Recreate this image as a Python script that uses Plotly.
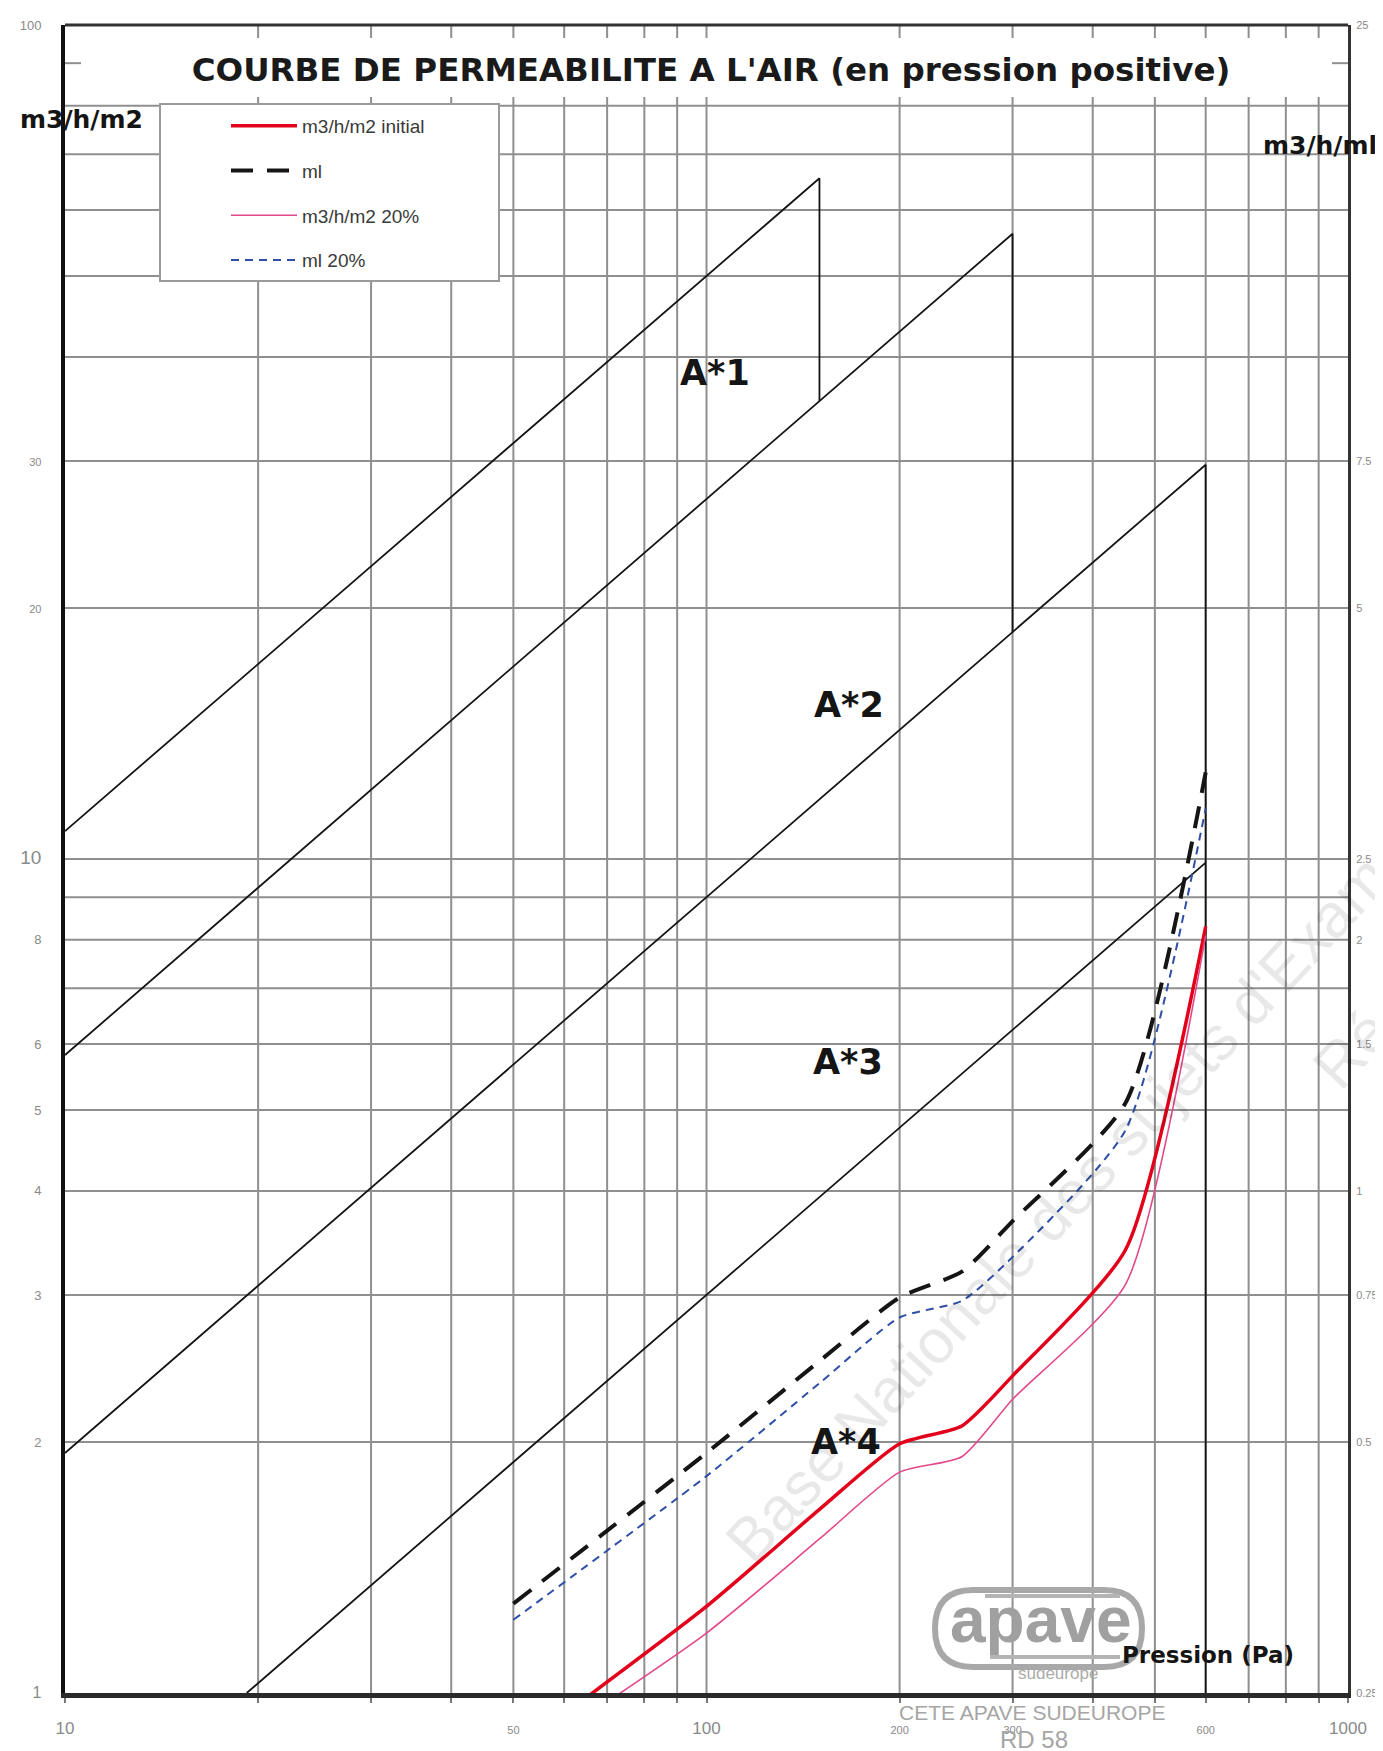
import math
import plotly.graph_objects as go

# ---------------- data ----------------
pressure_pa = [50, 100, 150, 200, 250, 300, 450, 600]
m2_initial = [0.85, 1.27, 1.66, 1.99, 2.09, 2.40, 3.40, 8.30]      # m3/h/m2
ml_initial = [0.320, 0.485, 0.625, 0.745, 0.800, 0.920, 1.275, 3.175]  # m3/h/ml
m2_20pct = [0.82, 1.18, 1.53, 1.84, 1.92, 2.25, 3.09, 8.10]          # m3/h/m2
ml_20pct = [0.306, 0.455, 0.588, 0.705, 0.738, 0.833, 1.183, 2.875]  # m3/h/ml

class_names = ["A*1", "A*2", "A*3", "A*4"]
class_start_pa = [10, 10, 10, 19.2]
class_start_q = [10.8, 5.82, 1.94, 1.0]
class_end_pa = [150, 300, 600, 600]
class_end_q = [65.5, 56.2, 29.7, 9.9]
class_drop_q = [35.4, 18.7, 9.9, 1.0]
class_label_pa = [103, 167, 166, 165]
class_label_q = [38.3, 15.3, 5.71, 2.0]

x_tick_vals = [10, 50, 100, 200, 300, 600, 1000]
y_left_tick_vals = [1, 2, 3, 4, 5, 6, 8, 10, 20, 30, 100]
y_right_tick_vals = [0.25, 0.5, 0.75, 1, 1.5, 2, 2.5, 5, 7.5, 25]
grid_pa = [20, 30, 40, 50, 60, 70, 80, 90, 100, 200, 300, 400, 500, 600, 700, 800, 900]
grid_q = [2, 3, 4, 5, 6, 7, 8, 9, 10, 20, 30, 40, 50, 60, 70, 80]
stub_q = [90]

series_names = ["m3/h/m2 initial", "ml", "m3/h/m2 20%", "ml 20%"]

# ---------------- styles / geometry ----------------
OFF = 8                       # default page margin of the html body
PAGE_W, PAGE_H = 1383, 1751
W, H = PAGE_W - OFF, PAGE_H - OFF
LEFT, RIGHT, TOP, BOTTOM = 65, 1348, 25, 1693   # plot area in page pixels
ML, MT = LEFT - OFF, TOP - OFF
MR, MB = W - (RIGHT - OFF), H - (BOTTOM - OFF)
PW, PH = RIGHT - LEFT, BOTTOM - TOP
BOLD = "DejaVu Sans"
SANS = "Liberation Sans, Arial, sans-serif"
NARROW = "Liberation Sans Narrow, Arial Narrow, Liberation Sans, sans-serif"
GRID = "#8f8f8f"
LABEL = "#8a8a8a"


def px_x(px):
    return (px - LEFT) / PW


def px_y(py):
    return (BOTTOM - py) / PH


def sized(txt, size):
    return f'<span style="font-size:{size}px">{txt}</span>'


x_big = {10, 100, 1000}
x_tick_text = [sized(str(v), 17 if v in x_big else 11) for v in x_tick_vals]
left_sizes = {1: 16, 10: 19, 20: 11, 30: 11, 100: 13}
y_left_tick_text = [sized(str(v), left_sizes.get(v, 13)) for v in y_left_tick_vals]
y_right_tick_text = [sized(f"{v:g}", 11) for v in y_right_tick_vals]

fig = go.Figure()

# class zone boundaries
for i, name in enumerate(class_names):
    fig.add_trace(go.Scatter(
        x=[class_start_pa[i], class_end_pa[i], class_end_pa[i]],
        y=[class_start_q[i], class_end_q[i], class_drop_q[i]],
        mode="lines", line=dict(color="#151515", width=1.8),
        showlegend=False, hoverinfo="skip", name=name))

# measured curves
fig.add_trace(go.Scatter(
    x=pressure_pa, y=m2_initial, name=series_names[0], mode="lines",
    line=dict(color="#e3001b", width=3.5, shape="spline", smoothing=0.6),
    legendgroup="a", yaxis="y"))
fig.add_trace(go.Scatter(
    x=pressure_pa, y=ml_initial, name=series_names[1], mode="lines",
    line=dict(color="#151515", width=4, dash="22px,14px", shape="spline", smoothing=0.6),
    legendgroup="b", yaxis="y2"))
fig.add_trace(go.Scatter(
    x=pressure_pa, y=m2_20pct, name=series_names[2], mode="lines",
    line=dict(color="#e2488a", width=1.6, shape="spline", smoothing=0.6),
    legendgroup="c", yaxis="y"))
fig.add_trace(go.Scatter(
    x=pressure_pa, y=ml_20pct, name=series_names[3], mode="lines",
    line=dict(color="#2f4fa6", width=2, dash="8px,6px", shape="spline", smoothing=0.6),
    legendgroup="d", yaxis="y2"))

shapes = []
for g in grid_pa:
    shapes.append(dict(type="line", xref="x", yref="y", x0=g, x1=g, y0=1, y1=82,
                       line=dict(color=GRID, width=2), layer="below"))
    shapes.append(dict(type="line", xref="x", yref="paper", x0=g, x1=g, y0=1, y1=1 - 13 / PH,
                       line=dict(color=GRID, width=2), layer="below"))
for g in grid_q:
    shapes.append(dict(type="line", xref="paper", yref="y", x0=0, x1=1, y0=g, y1=g,
                       line=dict(color=GRID, width=2), layer="below"))
for g in stub_q:
    shapes.append(dict(type="line", xref="paper", yref="y", x0=0, x1=16 / PW, y0=g, y1=g,
                       line=dict(color=GRID, width=2), layer="below"))
    shapes.append(dict(type="line", xref="paper", yref="y", x0=1 - 16 / PW, x1=1, y0=g, y1=g,
                       line=dict(color=GRID, width=2), layer="below"))
# top frame line
shapes.append(dict(type="line", xref="paper", yref="paper", x0=0, x1=1, y0=1, y1=1,
                   line=dict(color="#333333", width=3), layer="above"))
# legend frame
shapes.append(dict(type="rect", xref="paper", yref="paper",
                   x0=px_x(160), x1=px_x(499), y0=px_y(281), y1=px_y(104),
                   fillcolor="white", line=dict(color="#9a9a9a", width=2), layer="above"))
# apave stamp outline
x0, x1, y0, y1 = px_x(935), px_x(1142), px_y(1667), px_y(1590)
rx, ym = 38 / PW, (y0 + y1) / 2
stamp = (f"M {x0+rx},{y1} L {x1-rx},{y1} Q {x1},{y1} {x1},{ym} Q {x1},{y0} {x1-rx},{y0} "
         f"L {x0+rx},{y0} Q {x0},{y0} {x0},{ym} Q {x0},{y1} {x0+rx},{y1} Z")
shapes.append(dict(type="path", xref="paper", yref="paper", path=stamp,
                   line=dict(color="#a8a8a8", width=6), layer="above"))
shapes.append(dict(type="line", xref="paper", yref="paper", x0=px_x(985), x1=px_x(1120),
                   y0=px_y(1596), y1=px_y(1596), line=dict(color="#b4b4b4", width=4), layer="above"))
shapes.append(dict(type="line", xref="paper", yref="paper", x0=px_x(990), x1=px_x(1120),
                   y0=px_y(1657), y1=px_y(1657), line=dict(color="#b4b4b4", width=4), layer="above"))


def note(px, py, text, family, size, color, angle=0):
    return dict(x=px_x(px), y=px_y(py), xref="paper", yref="paper", text=text,
                xanchor="center", yanchor="middle", showarrow=False, textangle=angle,
                font=dict(family=family, size=size, color=color))


annotations = []
for i, name in enumerate(class_names):
    annotations.append(dict(x=math.log10(class_label_pa[i]), y=math.log10(class_label_q[i]),
                            xref="x", yref="y", text=f"<b>{name}</b>", showarrow=False,
                            xanchor="center", yanchor="middle",
                            font=dict(family=BOLD, size=35, color="#151515")))
annotations += [
    note(81, 120, "<b>m3/h/m2</b>", BOLD, 25, "#151515"),
    note(1320, 145, "<b>m3/h/ml</b>", BOLD, 25, "#151515"),
    note(1208, 1655, "<b>Pression (Pa)</b>", BOLD, 23, "#151515"),
    note(1040, 1620, "<b>apave</b>", SANS, 64, "#a0a0a0"),
    note(1058, 1673, "sudeurope", SANS, 17, "#ababab"),
    note(1032, 1713, "CETE APAVE SUDEUROPE", SANS, 21, "#a5a5a5"),
    note(1034, 1739, "RD 58", SANS, 24, "#a5a5a5"),
    note(1091, 1172, "Base Nationale des sujets d'Examens", SANS, 62, "rgba(0,0,0,0.09)", -47),
    note(1398, 1000, "Réseau", SANS, 62, "rgba(0,0,0,0.09)", -47),
]

fig.update_layout(
    width=W, height=H,
    margin=dict(l=ML, r=MR, t=MT, b=MB, pad=0),
    paper_bgcolor="white", plot_bgcolor="white",
    title=dict(text="<b>COURBE DE PERMEABILITE A L'AIR (en pression positive)</b>",
               x=px_x(711), xref="paper", xanchor="center",
               y=1 - (70 - OFF) / H, yref="container", yanchor="middle",
               font=dict(family=BOLD, size=32.5, color="#1a1a1a")),
    xaxis=dict(type="log", range=[1, 3], showgrid=False, zeroline=False,
               tickmode="array", tickvals=x_tick_vals, ticktext=x_tick_text,
               ticks="outside", ticklen=5, tickwidth=2, tickcolor="#777",
               minor=dict(tickmode="array", tickvals=grid_pa, ticks="outside",
                          ticklen=5, tickwidth=2, tickcolor="#777", showgrid=False),
               ticklabelstandoff=11,
               tickfont=dict(family=NARROW, size=17, color=LABEL),
               showline=True, linecolor="#2a2a2a", linewidth=5, automargin=False),
    yaxis=dict(type="log", range=[0, 2], showgrid=False, zeroline=False,
               tickmode="array", tickvals=y_left_tick_vals, ticktext=y_left_tick_text,
               ticks="", ticklabelstandoff=17,
               tickfont=dict(family=NARROW, size=13, color=LABEL),
               showline=True, linecolor="#111", linewidth=4, automargin=False),
    yaxis2=dict(type="log", range=[math.log10(0.25), math.log10(25)], overlaying="y",
                side="right", showgrid=False, zeroline=False,
                tickmode="array", tickvals=y_right_tick_vals, ticktext=y_right_tick_text,
                ticks="", ticklabelstandoff=3,
                tickfont=dict(family=NARROW, size=11, color=LABEL),
                showline=True, linecolor="#333", linewidth=3, automargin=False),
    legend=dict(x=px_x(226), y=px_y(107), xanchor="left", yanchor="top",
                bgcolor="rgba(0,0,0,0)", borderwidth=0, tracegroupgap=17,
                itemwidth=66, font=dict(family=SANS, size=19, color="#3a3a3a")),
    shapes=shapes, annotations=annotations,
)

fig.write_html("out.html")
